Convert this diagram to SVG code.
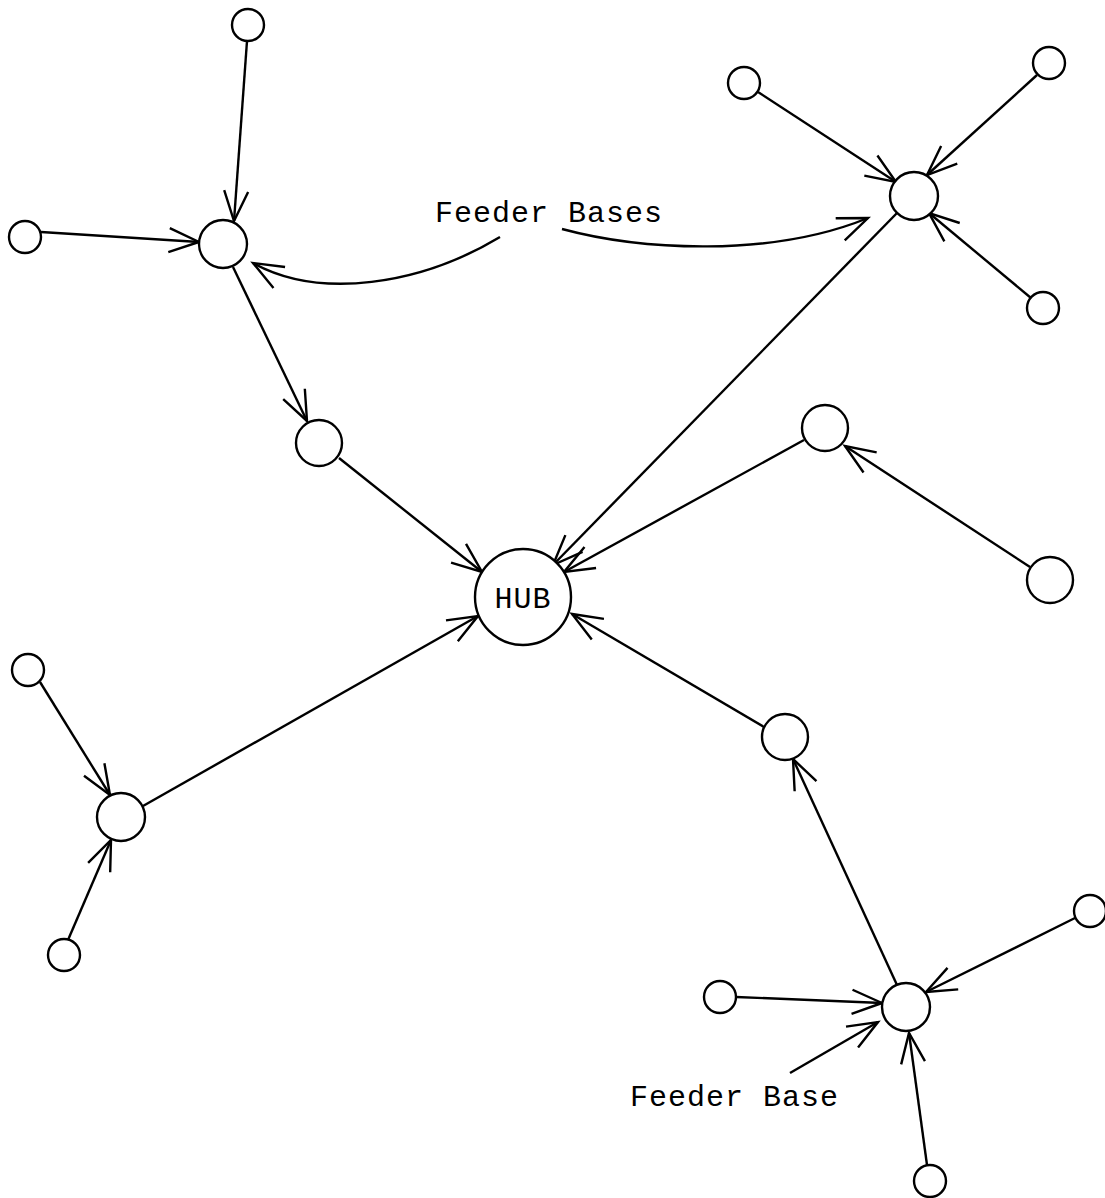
<svg xmlns="http://www.w3.org/2000/svg" width="1105" height="1198" viewBox="0 0 1105 1198">
  <style>
    .node { fill: #fff; stroke: #000; stroke-width: 2.4; }
    .edge { fill: none; stroke: #000; stroke-width: 2.4; marker-end: url(#arrow); }
    .label { font-family: "Liberation Mono", "Courier New", monospace; font-size: 30px; fill: #000; letter-spacing: 1px; }
  </style>
  <defs>
    <marker id="arrow" markerUnits="userSpaceOnUse" orient="auto" refX="0" refY="0" markerWidth="40" markerHeight="40" overflow="visible">
      <path d="M-30,-12 L0,0 L-30,12" fill="none" stroke="#000" stroke-width="2.4"/>
    </marker>
  </defs>
  <rect width="1105" height="1198" fill="#fff"/>

  <!-- connectors -->
  <g id="connectors">
    <line class="edge" x1="247" y1="41" x2="234" y2="221"/>
    <line class="edge" x1="41" y1="232" x2="199" y2="242"/>
    <line class="edge" x1="233" y1="267" x2="307" y2="421"/>
    <line class="edge" x1="339" y1="458" x2="482" y2="572"/>
    <line class="edge" x1="897" y1="213" x2="553" y2="565"/>
    <line class="edge" x1="758" y1="92" x2="896" y2="182"/>
    <line class="edge" x1="1037" y1="75" x2="927" y2="175"/>
    <line class="edge" x1="1031" y1="298" x2="929" y2="213"/>
    <line class="edge" x1="804" y1="440" x2="564" y2="572"/>
    <line class="edge" x1="1030" y1="567" x2="845" y2="446"/>
    <line class="edge" x1="764" y1="727" x2="572" y2="614"/>
    <line class="edge" x1="897" y1="985" x2="793" y2="759"/>
    <line class="edge" x1="143" y1="806" x2="478" y2="616"/>
    <line class="edge" x1="40" y1="682" x2="110" y2="795"/>
    <line class="edge" x1="68" y1="940" x2="111" y2="840"/>
    <line class="edge" x1="736" y1="997" x2="882" y2="1003"/>
    <line class="edge" x1="1075" y1="918" x2="926" y2="992"/>
    <line class="edge" x1="927" y1="1165" x2="909" y2="1033"/>
    <line class="edge" x1="790" y1="1073" x2="878" y2="1022"/>
    <path class="edge" d="M500,237 C420,285 320,300 253,263"/>
    <path class="edge" d="M562,229 C640,250 770,258 868,218"/>
  </g>

  <!-- hub -->
  <g id="hub">
    <circle class="node" cx="523" cy="597" r="48"/>
    <text class="label" x="523" y="608" text-anchor="middle">HUB</text>
  </g>

  <!-- feeder bases -->
  <g id="feeder-nw"><circle class="node" cx="223" cy="244" r="24"/></g>
  <g id="feeder-ne"><circle class="node" cx="914" cy="196" r="24"/></g>
  <g id="feeder-sw"><circle class="node" cx="121" cy="817" r="24"/></g>
  <g id="feeder-se"><circle class="node" cx="906" cy="1007" r="24"/></g>

  <!-- intermediate stations -->
  <g id="mid-nw"><circle class="node" cx="319" cy="443" r="23"/></g>
  <g id="mid-e"><circle class="node" cx="825" cy="428" r="23"/></g>
  <g id="far-e"><circle class="node" cx="1050" cy="580" r="23"/></g>
  <g id="mid-se"><circle class="node" cx="785" cy="737" r="23"/></g>

  <!-- outlying stations -->
  <g id="out-nw-top"><circle class="node" cx="248" cy="25" r="16"/></g>
  <g id="out-nw-left"><circle class="node" cx="25" cy="237" r="16"/></g>
  <g id="out-ne-left"><circle class="node" cx="744" cy="83" r="16"/></g>
  <g id="out-ne-right"><circle class="node" cx="1049" cy="63" r="16"/></g>
  <g id="out-ne-bottom"><circle class="node" cx="1043" cy="308" r="16"/></g>
  <g id="out-sw-top"><circle class="node" cx="28" cy="670" r="16"/></g>
  <g id="out-sw-bottom"><circle class="node" cx="64" cy="955" r="16"/></g>
  <g id="out-se-left"><circle class="node" cx="720" cy="997" r="16"/></g>
  <g id="out-se-right"><circle class="node" cx="1090" cy="911" r="16"/></g>
  <g id="out-se-bottom"><circle class="node" cx="930" cy="1181" r="16"/></g>

  <!-- annotations -->
  <text class="label" x="435" y="222">Feeder Bases</text>
  <text class="label" x="630" y="1106">Feeder Base</text>
</svg>
